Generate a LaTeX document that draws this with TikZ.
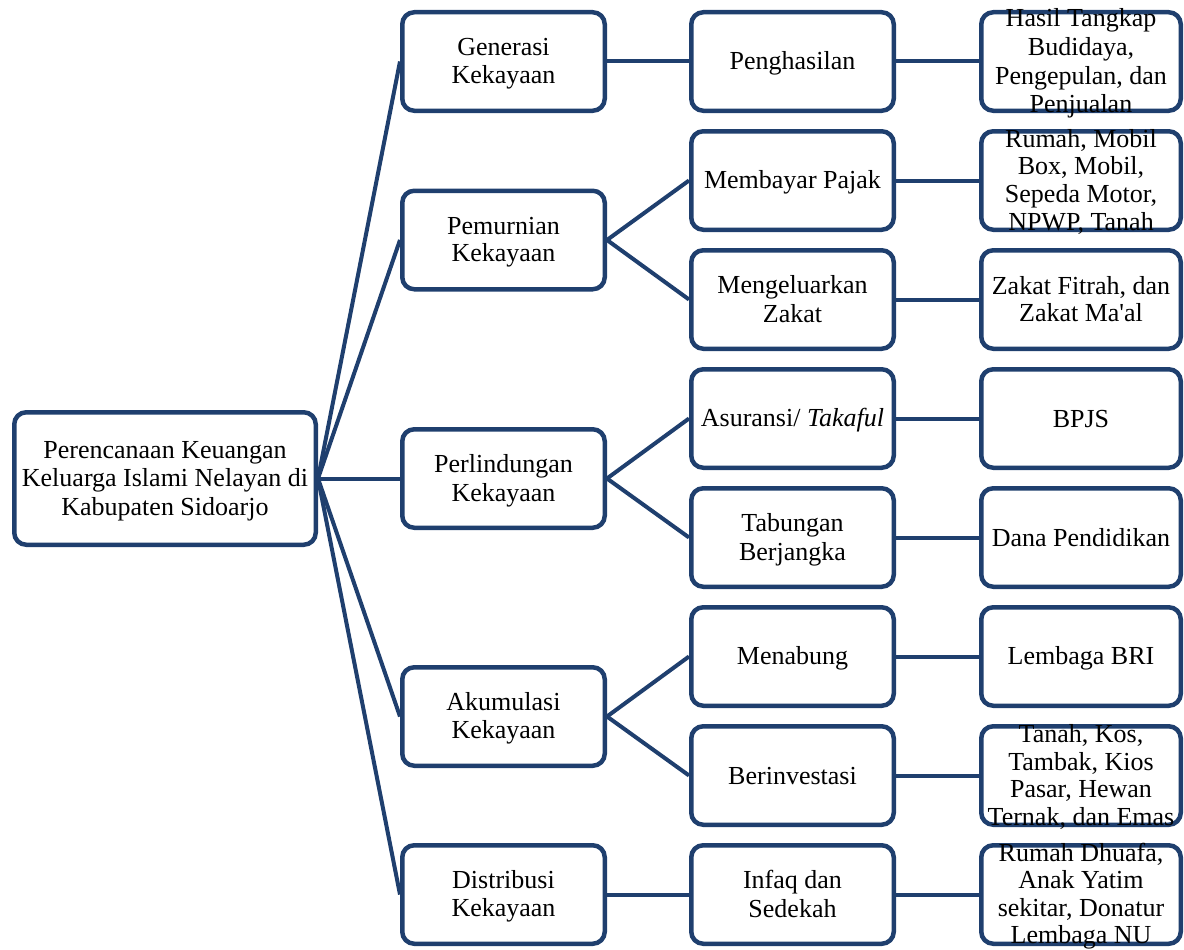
\documentclass[tikz,border=0pt]{standalone}
\usepackage{fontspec}
\setmainfont{Liberation Serif}
\definecolor{navy}{RGB}{31,63,110}
\newcommand{\ls}{\rule[-4.6pt]{0pt}{26.6pt}}
\begin{document}
\begin{tikzpicture}[x=1pt,y=-1pt,
  box/.style={draw=navy,fill=white,line width=4.5pt,rounded corners=12pt,minimum height=98.5pt,inner sep=0pt},
  wa/.style={minimum width=202.5pt},
  wb/.style={minimum width=199.5pt},
  txt/.style={font=\fontsize{26}{27.5}\selectfont,align=center,inner sep=0pt},
  conn/.style={draw=navy,line width=4pt}]
\useasboundingbox (0,0) rectangle (1184,950);
% connectors
\coordinate (dummy) at (0,0);
% root
\node[box,minimum width=301.5pt,minimum height=132.5pt] (root) at (165,478.5) {};
% level 1
\node[box,wa] (g1) at (503.5,61.5) {};
\node[box,wa] (g2) at (503.5,240) {};
\node[box,wa] (g3) at (503.5,478.5) {};
\node[box,wa] (g4) at (503.5,716.5) {};
\node[box,wa] (g5) at (503.5,894.5) {};
% level 2
\node[box,wa] (b1) at (792.5,61.5) {};
\node[box,wa] (b2) at (792.5,180.5) {};
\node[box,wa] (b3) at (792.5,299.5) {};
\node[box,wa] (b4) at (792.5,418.5) {};
\node[box,wa] (b5) at (792.5,537.5) {};
\node[box,wa] (b6) at (792.5,656.5) {};
\node[box,wa] (b7) at (792.5,775.5) {};
\node[box,wa] (b8) at (792.5,894.5) {};
% level 3
\node[box,wb] (c1) at (1081,61.5) {};
\node[box,wb] (c2) at (1081,180.5) {};
\node[box,wb] (c3) at (1081,299.5) {};
\node[box,wb] (c4) at (1081,418.5) {};
\node[box,wb] (c5) at (1081,537.5) {};
\node[box,wb] (c6) at (1081,656.5) {};
\node[box,wb] (c7) at (1081,775.5) {};
\node[box,wb] (c8) at (1081,894.5) {};
% connectors
\foreach \g in {g1,g2,g3,g4,g5} \draw[conn] (root.east) -- (\g.west);
\draw[conn] (g1.east) -- (b1.west);
\draw[conn] (g2.east) -- (b2.west);
\draw[conn] (g2.east) -- (b3.west);
\draw[conn] (g3.east) -- (b4.west);
\draw[conn] (g3.east) -- (b5.west);
\draw[conn] (g4.east) -- (b6.west);
\draw[conn] (g4.east) -- (b7.west);
\draw[conn] (g5.east) -- (b8.west);
\foreach \i in {1,...,8} \draw[conn] (b\i.east) -- (c\i.west);
% texts
\node[txt] (troot) at (root) {\ls Perencanaan Keuangan\\\ls Keluarga Islami Nelayan di\\\ls Kabupaten Sidoarjo};
\node[txt] (tg1) at (g1) {\ls Generasi\\\ls Kekayaan};
\node[txt] (tg2) at (g2) {\ls Pemurnian\\\ls Kekayaan};
\node[txt] (tg3) at (g3) {\ls Perlindungan\\\ls Kekayaan};
\node[txt] (tg4) at (g4) {\ls Akumulasi\\\ls Kekayaan};
\node[txt] (tg5) at (g5) {\ls Distribusi\\\ls Kekayaan};
\node[txt] (tb1) at (b1) {\ls Penghasilan};
\node[txt] (tb2) at (b2) {\ls Membayar Pajak};
\node[txt] (tb3) at (b3) {\ls Mengeluarkan\\\ls Zakat};
\node[txt] (tb4) at (b4) {\ls Asuransi/ \textit{Takaful}};
\node[txt] (tb5) at (b5) {\ls Tabungan\\\ls Berjangka};
\node[txt] (tb6) at (b6) {\ls Menabung};
\node[txt] (tb7) at (b7) {\ls Berinvestasi};
\node[txt] (tb8) at (b8) {\ls Infaq dan\\\ls Sedekah};
\node[txt] (tc1) at (c1) {\ls Hasil Tangkap\\\ls Budidaya,\\\ls Pengepulan, dan\\\ls Penjualan};
\node[txt] (tc2) at (c2) {\ls Rumah, Mobil\\\ls Box, Mobil,\\\ls Sepeda Motor,\\\ls NPWP, Tanah};
\node[txt] (tc3) at (c3) {\ls Zakat Fitrah, dan\\\ls Zakat Ma\textquotesingle al};
\node[txt] (tc4) at (c4) {\ls BPJS};
\node[txt] (tc5) at (c5) {\ls Dana Pendidikan};
\node[txt] (tc6) at (c6) {\ls Lembaga BRI};
\node[txt] (tc7) at (c7) {\ls Tanah, Kos,\\\ls Tambak, Kios\\\ls Pasar, Hewan\\\ls Ternak, dan Emas};
\node[txt] (tc8) at (c8) {\ls Rumah Dhuafa,\\\ls Anak Yatim\\\ls sekitar, Donatur\\\ls Lembaga NU};
\end{tikzpicture}
\end{document}
